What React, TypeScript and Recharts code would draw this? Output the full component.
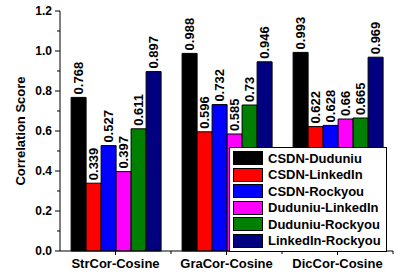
import { BarChart, Bar, XAxis, YAxis, Legend, LabelList } from "recharts";

const categories = ["StrCor-Cosine", "GraCor-Cosine", "DicCor-Cosine"];
const seriesNames = [
  "CSDN-Duduniu",
  "CSDN-LinkedIn",
  "CSDN-Rockyou",
  "Duduniu-LinkedIn",
  "Duduniu-Rockyou",
  "LinkedIn-Rockyou",
];
const csdnDuduniu = [0.768, 0.988, 0.993];
const csdnLinkedin = [0.339, 0.596, 0.622];
const csdnRockyou = [0.527, 0.732, 0.628];
const duduniuLinkedin = [0.397, 0.585, 0.66];
const duduniuRockyou = [0.611, 0.73, 0.665];
const linkedinRockyou = [0.897, 0.946, 0.969];
const yTicks = [0, 0.1, 0.2, 0.3, 0.4, 0.5, 0.6, 0.7, 0.8, 0.9, 1.0, 1.1, 1.2];

const COLORS = ["#000000", "#ff0000", "#0000ff", "#ff00ff", "#008000", "#000080"];
const FONT = "'Liberation Sans', Arial, sans-serif";

const seriesValues = [
  csdnDuduniu,
  csdnLinkedin,
  csdnRockyou,
  duduniuLinkedin,
  duduniuRockyou,
  linkedinRockyou,
];

const data = categories.map((name, i) => {
  const row: any = { name };
  seriesNames.forEach((s, j) => {
    row[s] = seriesValues[j][i];
  });
  return row;
});

const YTick = ({ x, y, payload }: any) => {
  const v = payload.value;
  const major = Math.round(v * 10) % 2 === 0;
  return (
    <g>
      <line x1={x} y1={y} x2={x - (major ? 5 : 3)} y2={y} stroke="#000" />
      {major && (
        <text
          x={x - 8}
          y={y}
          textAnchor="end"
          dominantBaseline="central"
          fontSize={12}
          fontWeight="bold"
          fontFamily={FONT}
          fill="#000"
        >
          {v.toFixed(1)}
        </text>
      )}
    </g>
  );
};

const XTick = ({ x, y, payload }: any) => (
  <g>
    <line x1={x} y1={y} x2={x} y2={y + 4} stroke="#000" />
    <line x1={x + 55.5} y1={y} x2={x + 55.5} y2={y + 3} stroke="#000" />
    <text
      x={x}
      y={y + 12}
      textAnchor="middle"
      dominantBaseline="central"
      fontSize={13}
      fontWeight="bold"
      fontFamily={FONT}
      fill="#000"
    >
      {payload.value}
    </text>
  </g>
);

const BarLabel = ({ x, y, width, value }: any) => {
  const cx = x + width / 2;
  const cy = y - 3;
  return (
    <text
      x={cx}
      y={cy}
      transform={`rotate(-90 ${cx} ${cy})`}
      textAnchor="start"
      dominantBaseline="central"
      fontSize={13}
      fontWeight="bold"
      fontFamily={FONT}
      fill="#000"
    >
      {value}
    </text>
  );
};

const LegendBox = () => (
  <div
    style={{
      border: "1px solid #000",
      background: "#fff",
      padding: "2px 5px 2px 3px",
      fontFamily: FONT,
      fontWeight: "bold",
      fontSize: 13,
    }}
  >
    {seriesNames.map((s, i) => (
      <div key={s} style={{ display: "flex", alignItems: "center", height: 16.5 }}>
        <div
          style={{
            width: 28,
            height: 12,
            background: COLORS[i],
            border: "1px solid #000",
            marginRight: 5,
          }}
        />
        <span>{s}</span>
      </div>
    ))}
  </div>
);

const YLabel = ({ viewBox }: any) => {
  const cx = 20;
  const cy = viewBox.y + viewBox.height / 2;
  return (
    <text
      x={cx}
      y={cy}
      transform={`rotate(-90 ${cx} ${cy})`}
      textAnchor="middle"
      dominantBaseline="central"
      fontSize={13}
      fontWeight="bold"
      fontFamily={FONT}
      fill="#000"
    >
      Correlation Score
    </text>
  );
};

export default function App() {
  return (
    <div style={{ position: "absolute", left: 0, top: 0 }}>
      <style>{"body{margin:0}"}</style>
      <BarChart
        width={395}
        height={278}
        data={data}
        margin={{ top: 11, right: 2, left: 0, bottom: 0 }}
        barCategoryGap="10%"
        barGap={0}
      >
        <XAxis
          dataKey="name"
          height={27}
          stroke="#000"
          tickLine={false}
          tickSize={0}
          tickMargin={0}
          tick={<XTick />}
          interval={0}
        />
        <XAxis xAxisId="top" orientation="top" dataKey="name" height={0} tick={false} tickLine={false} stroke="#000" />
        <YAxis
          width={60}
          domain={[0, 1.2]}
          ticks={yTicks}
          interval={0}
          stroke="#000"
          tickLine={false}
          tickSize={0}
          tickMargin={0}
          tick={<YTick />}
          label={<YLabel />}
        />
        <YAxis yAxisId="right" orientation="right" width={0} tick={false} tickLine={false} stroke="#000" />
        {seriesNames.map((s, i) => (
          <Bar
            key={s}
            dataKey={s}
            fill={COLORS[i]}
            stroke="#000"
            strokeWidth={1}
            isAnimationActive={false}
          >
            <LabelList dataKey={s} content={<BarLabel />} />
          </Bar>
        ))}
        <Legend
          layout="vertical"
          align="center"
          verticalAlign="middle"
          content={<LegendBox />}
          wrapperStyle={{ left: 229, top: 147, width: "auto", height: "auto" }}
        />
      </BarChart>
    </div>
  );
}
